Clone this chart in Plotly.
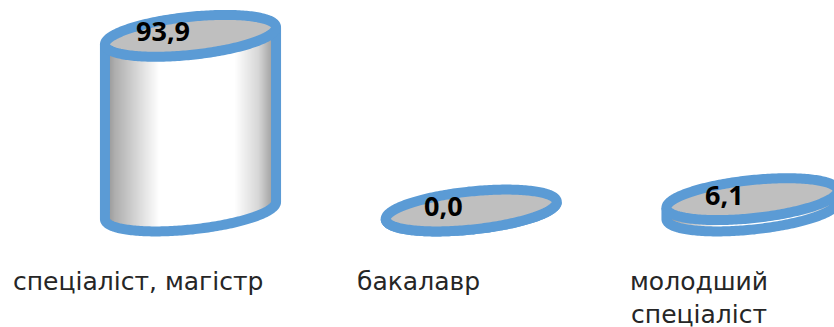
import numpy as np
import plotly.graph_objects as go

# данные
categories = ["спеціаліст, магістр", "бакалавр", "молодший<br>спеціаліст"]
values = [93.9, 0.0, 6.1]
value_labels = ["93,9", "0,0", "6,1"]

# масштаб: пикселей на единицу
W, H = 834, 327
PX_X = 280.75
PX_Y = 1.86
X0_PX = 190.5
Y0_PX = 210.5

BLUE = "#5b9bd5"
GRAY = "#bfbfbf"
A, B = 86.0, 19.0
TILT = np.radians(6)
STROKE = 10


def ellipse(cx, v):
    # наклонный эллипс вокруг центра столбца
    t = np.linspace(0, 2 * np.pi, 241)
    ex = A * np.cos(t) * np.cos(TILT) - B * np.sin(t) * np.sin(TILT)
    ey = A * np.cos(t) * np.sin(TILT) + B * np.sin(t) * np.cos(TILT)
    return cx + ex / PX_X, v + ey / PX_Y


fig = go.Figure()

for i, v in enumerate(values):
    ex0, ey0 = ellipse(i, 0)
    il, ir = int(np.argmin(ex0[:-1])), int(np.argmax(ex0[:-1]))

    # нижняя дуга основания: от левой точки к правой
    idx = np.arange(il, il + 240) % 240
    idx = idx[: int(np.where(idx == ir)[0][0]) + 1]
    if ey0[idx].mean() > 0:
        idx = np.arange(il, il - 240, -1) % 240
        idx = idx[: int(np.where(idx == ir)[0][0]) + 1]
    arc_x, arc_y = ex0[idx], ey0[idx]

    # боковая поверхность с градиентом
    if v > 0:
        gx = np.arange(arc_x[0], arc_x[-1], 1 / PX_X)
        bottom = np.interp(gx, arc_x, arc_y)
        gy = np.arange(arc_y.min(), v + A * np.sin(TILT) / PX_Y, 1 / PX_Y)
        frac = (gx - arc_x[0]) / (arc_x[-1] - arc_x[0])
        shade = np.interp(frac, [0, 0.06, 0.32, 0.76, 0.9, 1], [0.55, 0.68, 1, 1, 0.84, 0.58])
        inside = (gy[:, None] >= bottom[None, :]) & (gy[:, None] <= bottom[None, :] + v)
        z = np.where(inside, shade[None, :], np.nan)
        fig.add_trace(go.Heatmap(
            x=gx, y=gy, z=z, zmin=0, zmax=1,
            colorscale=[[0, "#000000"], [1, "#ffffff"]],
            showscale=False, hoverinfo="skip",
        ))

    # контур: левая сторона, дуга, правая сторона
    fig.add_trace(go.Scatter(
        x=np.r_[arc_x[0], arc_x, arc_x[-1]],
        y=np.r_[arc_y[0] + v, arc_y, arc_y[-1] + v],
        mode="lines",
        line=dict(color=BLUE, width=STROKE, simplify=False),
        hoverinfo="skip",
    ))

    # верхний эллипс (с нахлёстом, чтобы не было шва)
    tx, ty = ellipse(i, v)
    fig.add_trace(go.Scatter(
        x=np.r_[tx, tx[1:8]], y=np.r_[ty, ty[1:8]],
        mode="lines",
        line=dict(color=BLUE, width=STROKE, simplify=False),
        fill="toself",
        fillcolor=GRAY,
        hoverinfo="skip",
    ))

    fig.add_annotation(
        x=i, y=v, text=value_labels[i], showarrow=False,
        xshift=-28, yshift=5,
        font=dict(family="Open Sans", size=27, color="#000000", weight="bold"),
    )
    fig.add_annotation(
        x=i, y=0, text=categories[i], showarrow=False,
        xanchor="center", yanchor="top", align="center",
        xshift=-53, yshift=-54,
        font=dict(family="DejaVu Sans", size=25, color="#262626"),
    )

fig.update_layout(
    width=W, height=H,
    margin=dict(l=0, r=0, t=0, b=0),
    paper_bgcolor="white",
    plot_bgcolor="white",
    showlegend=False,
    xaxis=dict(visible=False, range=[-X0_PX / PX_X, (W - X0_PX) / PX_X]),
    yaxis=dict(visible=False, range=[(Y0_PX - H) / PX_Y, Y0_PX / PX_Y]),
)
fig.write_html(
    "out.html",
    config=dict(displayModeBar=False),
    post_script="document.body.style.margin='0';",
)
